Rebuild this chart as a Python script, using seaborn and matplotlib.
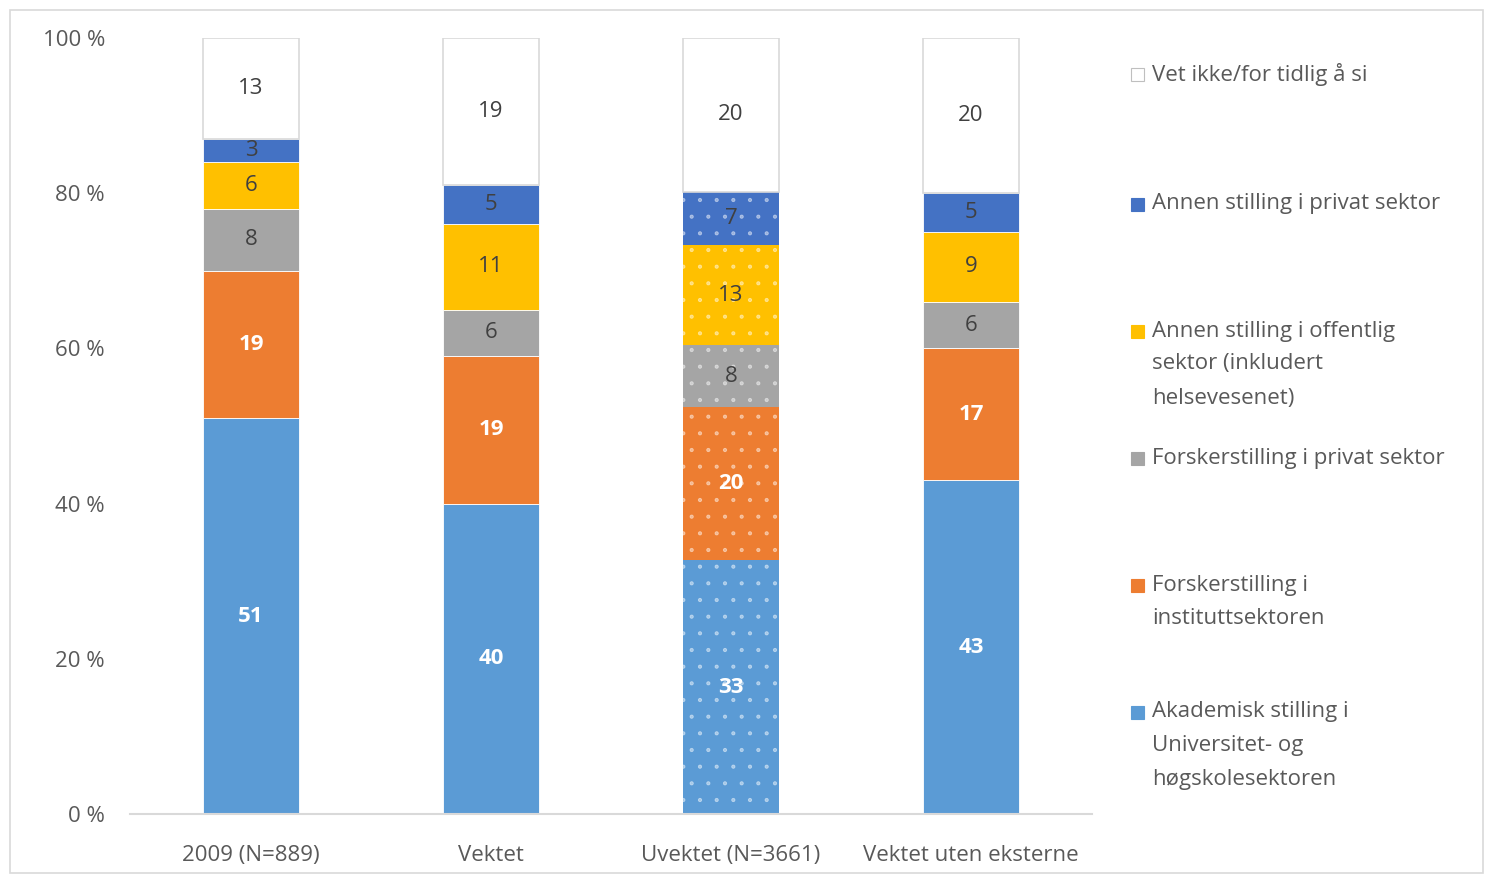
import numpy as np
import pandas as pd
import matplotlib
matplotlib.use("Agg")
import matplotlib.pyplot as plt
from matplotlib.patches import Rectangle
import seaborn as sns

categories = ["2009 (N=889)", "Vektet", "Uvektet (N=3661)", "Vektet uten eksterne"]
series_names = [
    "Akademisk stilling i\nUniversitet- og\nhøgskolesektoren",
    "Forskerstilling i\ninstituttsektoren",
    "Forskerstilling i privat sektor",
    "Annen stilling i offentlig\nsektor (inkludert\nhelsevesenet)",
    "Annen stilling i privat sektor",
    "Vet ikke/for tidlig å si",
]
akademisk = [51, 40, 33, 43]
institutt = [19, 19, 20, 17]
forsker_privat = [8, 6, 8, 6]
annen_offentlig = [6, 11, 13, 9]
annen_privat = [3, 5, 7, 5]
vet_ikke = [13, 19, 20, 20]
yticks = [0, 20, 40, 60, 80, 100]
ytick_labels = ["0 %", "20 %", "40 %", "60 %", "80 %", "100 %"]

colors = ["#5B9BD5", "#ED7D31", "#A5A5A5", "#FFC000", "#4472C4", "#FFFFFF"]
label_colors = ["white", "white", "#404040", "#404040", "#404040", "#404040"]
label_weights = ["bold", "bold", "normal", "normal", "normal", "normal"]
hatched_category = "Uvektet (N=3661)"

sns.set_theme(style="white")
plt.rcParams["font.family"] = ["Open Sans", "DejaVu Sans"]
plt.rcParams["hatch.linewidth"] = 0.6

series = [akademisk, institutt, forsker_privat, annen_offentlig, annen_privat, vet_ikke]
raw = np.array(series, dtype=float)
totals = raw.sum(axis=0)
pct = raw / totals * 100

fig = plt.figure(figsize=(14.85, 8.75), dpi=100)
ax = fig.add_axes([130 / 1485, 1 - 814 / 875, (1092 - 130) / 1485, (814 - 38) / 875])

bottom = np.zeros(len(categories))
for i, name in enumerate(series_names):
    df = pd.DataFrame({"cat": categories, "val": pct[i]})
    edge = "#D9D9D9" if colors[i] == "#FFFFFF" else "white"
    lw = 1.2 if colors[i] == "#FFFFFF" else 0.6
    sns.barplot(data=df, x="cat", y="val", order=categories, bottom=bottom,
                color=colors[i], saturation=1, width=0.4, ax=ax,
                edgecolor=edge, linewidth=lw)
    cont = ax.containers[-1]
    for j, patch in enumerate(cont.patches):
        if categories[j] == hatched_category and colors[i] != "#FFFFFF":
            patch.set_hatch(".")
            patch.set_edgecolor((1, 1, 1, 0.45))
            patch.set_linewidth(0)
        cx = patch.get_x() + patch.get_width() / 2
        cy = bottom[j] + pct[i][j] / 2
        ax.text(cx, cy, f"{int(raw[i][j])}", ha="center", va="center",
                fontsize=16, color=label_colors[i], fontweight=label_weights[i])
    bottom = bottom + pct[i]

ax.set_xlim(-0.504, 3.504)
ax.set_ylim(0, 100)
ax.set_yticks(yticks)
ax.set_yticklabels(ytick_labels)
ax.set_xlabel("")
ax.set_ylabel("")
for s in ["top", "right", "left"]:
    ax.spines[s].set_visible(False)
ax.spines["bottom"].set_color("#D9D9D9")
ax.spines["bottom"].set_linewidth(1.5)
ax.tick_params(axis="y", length=0, pad=18, labelsize=16, labelcolor="#595959")
ax.tick_params(axis="x", length=0, pad=22, labelsize=16, labelcolor="#595959")
ax.grid(False)

# legend (manual, positioned like the original)
legend_y = [
    [712, 746, 780],
    [585, 618],
    [458],
    [331, 364, 399],
    [204],
    [74],
]
for i, name in enumerate(series_names):
    lines = name.split("\n")
    y0 = legend_y[i][0]
    ec = "#BFBFBF" if colors[i] == "#FFFFFF" else colors[i]
    fig.add_artist(Rectangle((1131 / 1485, 1 - (y0 + 7) / 875), 13 / 1485, 13 / 875,
                             transform=fig.transFigure, facecolor=colors[i],
                             edgecolor=ec, linewidth=0.8))
    for k, line in enumerate(lines):
        fig.text(1152 / 1485, 1 - legend_y[i][k] / 875, line, ha="left", va="center",
                 fontsize=16, color="#595959")

# chart border
fig.add_artist(Rectangle((10 / 1485, 2 / 875), 1473 / 1485, 863 / 875,
                         transform=fig.transFigure, facecolor="none",
                         edgecolor="#D9D9D9", linewidth=1.2))

fig.savefig("out.png", dpi=100)
